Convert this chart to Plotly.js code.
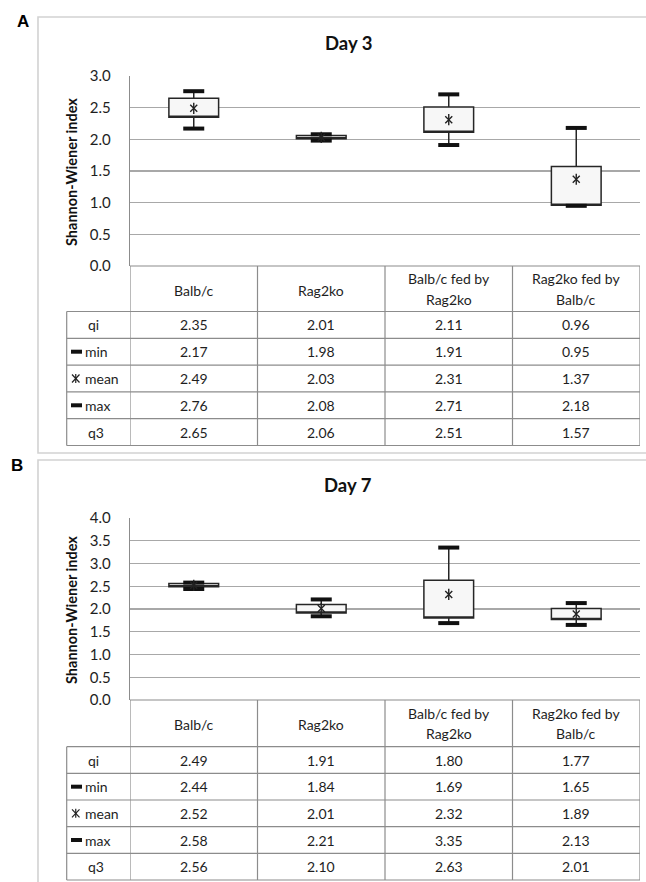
<!DOCTYPE html>
<html>
<head>
<meta charset="utf-8">
<script src="https://cdn.plot.ly/plotly-3.0.1.min.js"></script>
<style>html,body{margin:0;padding:0;background:#fff;}#chart{width:646px;height:882px;}</style>
</head>
<body>
<div id="chart"></div>
<script>
// ---- data ----
const categories = ['Balb/c', 'Rag2ko', 'Balb/c fed by Rag2ko', 'Rag2ko fed by Balb/c'];
const headerLines = [['Balb/c'], ['Rag2ko'], ['Balb/c fed by', 'Rag2ko'], ['Rag2ko fed by', 'Balb/c']];
const rowLabels = ['qi', 'min', 'mean', 'max', 'q3'];
const rowKeys = [null, 'cap', 'star', 'cap', null];

const day3_q1   = [2.35, 2.01, 2.11, 0.96];
const day3_min  = [2.17, 1.98, 1.91, 0.95];
const day3_mean = [2.49, 2.03, 2.31, 1.37];
const day3_max  = [2.76, 2.08, 2.71, 2.18];
const day3_q3   = [2.65, 2.06, 2.51, 1.57];

const day7_q1   = [2.49, 1.91, 1.80, 1.77];
const day7_min  = [2.44, 1.84, 1.69, 1.65];
const day7_mean = [2.52, 2.01, 2.32, 1.89];
const day7_max  = [2.58, 2.21, 3.35, 2.13];
const day7_q3   = [2.56, 2.10, 2.63, 2.01];

const yTicks3 = [0, 0.5, 1.0, 1.5, 2.0, 2.5, 3.0];
const yTicks7 = [0, 0.5, 1.0, 1.5, 2.0, 2.5, 3.0, 3.5, 4.0];

// ---- layout helpers ----
const W = 646, H = 882;
const px = v => v / W;
const py = v => 1 - v / H;

const FONT = 'Lato, "Open Sans", sans-serif';
const TXT = '#1e1e1e';
const TABLE_SIZE = 14;
const plotLeft = 130, plotRight = 640, rowLabelLeft = 66.7;

const panels = [
  {label: 'A', labelX: 22.7, labelY: 22, title: 'Day 3', titleY: 43,
   frameTop: 17, frameBottom: 453, plotTop: 76, plotBottom: 266,
   headerBottom: 311.5, tableBottom: 445.5, ticks: yTicks3,
   q1: day3_q1, min: day3_min, mean: day3_mean, max: day3_max, q3: day3_q3,
   xa: 'x', ya: 'y'},
  {label: 'B', labelX: 16.5, labelY: 465, title: 'Day 7', titleY: 485,
   frameTop: 460, frameBottom: 895, plotTop: 518, plotBottom: 700,
   headerBottom: 746.7, tableBottom: 880, ticks: yTicks7,
   q1: day7_q1, min: day7_min, mean: day7_mean, max: day7_max, q3: day7_q3,
   xa: 'x2', ya: 'y2'}
];

const data = [];
const shapes = [];
const annotations = [];
const layout = {
  width: W, height: H,
  margin: {l: 0, r: 0, t: 0, b: 0},
  paper_bgcolor: '#ffffff', plot_bgcolor: '#ffffff',
  showlegend: false,
  font: {family: FONT, color: TXT}
};

panels.forEach((p, i) => {
  const sfx = i === 0 ? '' : '2';
  const rows = [p.q1, p.min, p.mean, p.max, p.q3];

  // box bodies + whiskers
  data.push({
    type: 'box', xaxis: p.xa, yaxis: p.ya,
    x: categories, q1: p.q1, median: p.q1, q3: p.q3,
    lowerfence: p.min, upperfence: p.max,
    width: 0.39, whiskerwidth: 0, boxpoints: false,
    fillcolor: '#f7f7f7', line: {color: '#262626', width: 1.5},
    hoverinfo: 'skip'
  });
  // whisker caps (min / max)
  data.push({
    type: 'scatter', mode: 'markers', xaxis: p.xa, yaxis: p.ya,
    x: categories.concat(categories), y: p.min.concat(p.max),
    marker: {symbol: 'line-ew-open', size: 15, color: '#111', line: {width: 4, color: '#111'}},
    hoverinfo: 'skip', cliponaxis: false
  });
  // mean asterisk (x + vertical bar)
  data.push({
    type: 'scatter', mode: 'markers', xaxis: p.xa, yaxis: p.ya,
    x: categories, y: p.mean,
    marker: {symbol: 'x-thin-open', size: 7, color: '#222', line: {width: 1.4, color: '#222'}},
    hoverinfo: 'skip'
  });
  data.push({
    type: 'scatter', mode: 'markers', xaxis: p.xa, yaxis: p.ya,
    x: categories, y: p.mean,
    marker: {symbol: 'line-ns-open', size: 8, color: '#222', line: {width: 1.4, color: '#222'}},
    hoverinfo: 'skip'
  });

  const yMax = p.ticks[p.ticks.length - 1];
  layout['xaxis' + sfx] = {
    domain: [px(plotLeft), px(plotRight)], anchor: 'y' + sfx,
    type: 'category', range: [-0.5, 3.5],
    showticklabels: false, showgrid: false, zeroline: false, showline: false, ticks: '',
    fixedrange: true
  };
  layout['yaxis' + sfx] = {
    domain: [py(p.plotBottom), py(p.plotTop)], anchor: 'x' + sfx,
    range: [0, yMax], tickmode: 'array', tickvals: p.ticks,
    ticktext: p.ticks.map(v => v.toFixed(1)),
    showgrid: true, gridcolor: '#a8a8a8', gridwidth: 1.4,
    zeroline: false, showline: true, linecolor: '#8c8c8c', linewidth: 1.2,
    ticks: '', ticklabelstandoff: 15,
    tickfont: {family: FONT, size: 15, color: TXT},
    fixedrange: true
  };

  // frame
  shapes.push({type: 'rect', xref: 'paper', yref: 'paper',
    x0: px(38), x1: px(652), y0: py(p.frameBottom), y1: py(p.frameTop),
    line: {color: '#d2d2d2', width: 1.6}, layer: 'below'});

  // table lines
  const tl = {color: '#8c8c8c', width: 1.2};
  shapes.push({type: 'line', xref: 'paper', yref: 'paper',
    x0: px(plotLeft), x1: px(plotRight), y0: py(p.plotBottom), y1: py(p.plotBottom), line: tl});
  for (let k = 0; k <= categories.length; k++) {
    shapes.push({type: 'line', xref: p.xa, yref: 'paper',
      x0: k - 0.5, x1: k - 0.5, y0: py(p.tableBottom), y1: py(p.plotBottom), line: tl});
  }
  shapes.push({type: 'line', xref: 'paper', yref: 'paper',
    x0: px(rowLabelLeft), x1: px(rowLabelLeft), y0: py(p.tableBottom), y1: py(p.headerBottom), line: tl});
  const rowH = (p.tableBottom - p.headerBottom) / rows.length;
  for (let r = 0; r <= rows.length; r++) {
    const yy = p.headerBottom + r * rowH;
    shapes.push({type: 'line', xref: 'paper', yref: 'paper',
      x0: px(rowLabelLeft), x1: px(plotRight), y0: py(yy), y1: py(yy), line: tl});
  }

  // header text
  const hMid = (p.plotBottom + p.headerBottom) / 2;
  headerLines.forEach((lines, c) => {
    lines.forEach((t, li) => {
      const off = lines.length === 1 ? 1.5 : (li === 0 ? -10 : 10.5);
      annotations.push({xref: p.xa, yref: 'paper', x: c, y: py(hMid + off),
        text: t, showarrow: false, xanchor: 'center', yanchor: 'middle',
        font: {family: FONT, size: TABLE_SIZE, color: TXT}});
    });
  });

  // rows
  rows.forEach((vals, r) => {
    const cy = p.headerBottom + (r + 0.5) * rowH;
    annotations.push({xref: 'paper', yref: 'paper', x: px(rowKeys[r] ? 83 : 86), y: py(cy),
      text: rowLabels[r], showarrow: false, xanchor: 'left', yanchor: 'middle',
      font: {family: FONT, size: TABLE_SIZE, color: TXT}});
    if (rowKeys[r] === 'cap') {
      shapes.push({type: 'line', xref: 'paper', yref: 'paper',
        x0: px(71), x1: px(82), y0: py(cy), y1: py(cy), line: {color: '#111', width: 4}});
    } else if (rowKeys[r] === 'star') {
      const ks = {color: '#222', width: 1.2};
      shapes.push({type: 'line', xref: 'paper', yref: 'paper', x0: px(72), x1: px(79.5), y0: py(cy - 4), y1: py(cy + 4), line: ks});
      shapes.push({type: 'line', xref: 'paper', yref: 'paper', x0: px(72), x1: px(79.5), y0: py(cy + 4), y1: py(cy - 4), line: ks});
      shapes.push({type: 'line', xref: 'paper', yref: 'paper', x0: px(75.75), x1: px(75.75), y0: py(cy - 4.5), y1: py(cy + 4.5), line: ks});
    }
    vals.forEach((v, c) => {
      annotations.push({xref: p.xa, yref: 'paper', x: c, y: py(cy),
        text: v.toFixed(2), showarrow: false, xanchor: 'center', yanchor: 'middle',
        font: {family: FONT, size: TABLE_SIZE, color: TXT}});
    });
  });

  // titles and labels
  annotations.push({xref: 'paper', yref: 'paper', x: px(348), y: py(p.titleY),
    text: '<b>' + p.title + '</b>', showarrow: false, xanchor: 'center', yanchor: 'middle',
    font: {family: FONT, size: 18.5, color: '#111'}});
  annotations.push({xref: 'paper', yref: 'paper', x: px(p.labelX), y: py(p.labelY),
    text: '<b>' + p.label + '</b>', showarrow: false, xanchor: 'center', yanchor: 'middle',
    font: {family: '"Liberation Sans", Arial, sans-serif', size: 17, color: '#000'}});
  annotations.push({xref: 'paper', yref: 'paper', x: px(71), y: py((p.plotTop + p.plotBottom) / 2 + 1),
    text: '<b>Shannon-Wiener index</b>', textangle: -90, showarrow: false,
    xanchor: 'center', yanchor: 'middle',
    font: {family: FONT, size: 14.5, color: '#111'}});
});

layout.shapes = shapes;
layout.annotations = annotations;

Plotly.newPlot('chart', data, layout, {staticPlot: true, displayModeBar: false});
</script>
</body>
</html>
